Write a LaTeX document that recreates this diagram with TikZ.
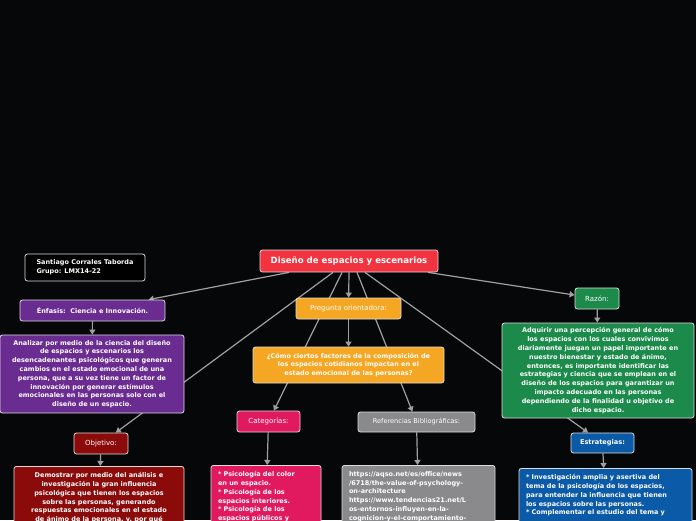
\documentclass[tikz,border=0pt]{standalone}
\usepackage{fontspec}
\setmainfont{DejaVu Sans}
\usetikzlibrary{arrows.meta}

\definecolor{bgblack}{RGB}{5,7,9}
\definecolor{boxline}{RGB}{220,220,220}
\definecolor{linkgray}{RGB}{160,160,160}
\definecolor{titlered}{RGB}{242,52,64}
\definecolor{purplebox}{RGB}{107,44,145}
\definecolor{darkred}{RGB}{139,10,10}
\definecolor{orangebox}{RGB}{245,166,35}
\definecolor{pinkbox}{RGB}{225,25,95}
\definecolor{graybox}{RGB}{138,138,140}
\definecolor{greenbox}{RGB}{27,138,74}
\definecolor{bluebox}{RGB}{11,90,168}

\pgfdeclarelayer{bg}
\pgfdeclarelayer{edges}
\pgfsetlayers{bg,edges,main}

\newcommand{\cuttext}[2]{\parbox[t][64pt][t]{#1}{#2}}

\tikzset{
  box/.style={draw=boxline, line width=0.8pt, rounded corners=2.5pt, text=white,
    inner sep=0pt, align=center, font=\fontsize{6.5}{8.8}\selectfont\bfseries},
  tag/.style={box, minimum height=21pt, font=\fontsize{7}{8}\selectfont},
  link/.style={draw=linkgray, line width=1.2pt, -{Triangle[width=6pt,length=5pt]}},
}

\begin{document}
\begin{tikzpicture}[x=1pt,y=-1pt]
  \useasboundingbox (0,0) rectangle (696,520);
  \begin{pgfonlayer}{bg}
    \fill[bgblack] (0,0) rectangle (696,520);
  \end{pgfonlayer}
  \clip (0,0) rectangle (696,520);

  % central topic
  \node[box, fill=titlered, minimum width=178pt, minimum height=22pt,
    font=\fontsize{8.6}{10}\selectfont\bfseries] (title) at (349,261) {Diseño de espacios y escenarios};
  \node[box, fill=black, minimum width=120pt, minimum height=27pt, align=left] (author) at (85,267.5)
    {Santiago Corrales Taborda\\Grupo: LMX14-22};

  % left branch
  \node[box, fill=purplebox, minimum width=145pt, minimum height=21pt] (enf) at (92.5,310.5)
    {Énfasis:\ \ Ciencia e Innovación.};
  \node[box, fill=purplebox, minimum width=184pt, minimum height=78pt] (analizar) at (92,374)
    {Analizar por medio de la ciencia del diseño\\de espacios y escenarios los\\desencadenantes psicológicos que generan\\cambios en el estado emocional de una\\persona, que a su vez tiene un factor de\\innovación por generar estímulos\\emocionales en las personas solo con el\\diseño de un espacio.};
  \node[tag, fill=darkred, minimum width=54pt] (obj) at (101,443.5) {Objetivo:};
  \node[box, fill=darkred, anchor=north, minimum width=170pt, inner ysep=6pt] (demo) at (99,466)
    {\cuttext{164pt}{\centering Demostrar por medio del análisis e\\investigación la gran influencia\\psicológica que tienen los espacios\\sobre las personas, generando\\respuestas emocionales en el estado\\de ánimo de la persona, y, por qué}};

  % middle branch
  \node[tag, fill=orangebox, minimum width=105pt] (preg) at (348.5,308.5) {Pregunta orientadora:};
  \node[box, fill=orangebox, minimum width=191pt, minimum height=36pt] (quest) at (348.5,365)
    {¿Cómo ciertos factores de la composición de\\los espacios cotidianos impactan en el\\estado emocional de las personas?};
  \node[tag, fill=pinkbox, minimum width=63pt] (cat) at (268.5,421.5) {Categorías:};
  \node[box, fill=pinkbox, anchor=north, minimum width=110pt, inner ysep=6pt] (colores) at (266,465)
    {\cuttext{96pt}{\raggedright * Psicología del color\\en un espacio.\\{}* Psicología de los\\espacios interiores.\\{}* Psicología de los\\espacios públicos y}};
  \node[tag, fill=graybox, minimum width=117pt, minimum height=20pt,
    font=\fontsize{6.6}{8}\selectfont] (ref) at (416.5,422) {Referencias Bibliográficas:};
  \node[box, fill=graybox, anchor=north, minimum width=153pt, inner ysep=6pt] (links) at (418.5,465)
    {\cuttext{139pt}{\raggedright https://aqso.net/es/office/news\\/6718/the-value-of-psychology-\\on-architecture\\https://www.tendencias21.net/L\\os-entornos-influyen-en-la-\\cognicion-y-el-comportamiento-}};

  % right branch
  \node[tag, fill=greenbox, minimum width=44pt] (razon) at (597,298.5) {Razón:};
  \node[box, fill=greenbox, minimum width=192pt, minimum height=95pt] (adq) at (598,370.5)
    {Adquirir una percepción general de cómo\\los espacios con los cuales convivimos\\diariamente juegan un papel importante en\\nuestro bienestar y estado de ánimo,\\entonces, es importante identificar las\\estrategias y ciencia que se emplean en el\\diseño de los espacios para garantizar un\\impacto adecuado en las personas\\dependiendo de la finalidad u objetivo de\\dicho espacio.};
  \node[tag, fill=bluebox, minimum width=63pt, minimum height=20pt,
    font=\fontsize{6.6}{8}\selectfont\bfseries] (estr) at (602.5,443) {Estrategias:};
  \node[box, fill=bluebox, anchor=north, minimum width=173pt, inner ysep=6pt] (estrat) at (605.5,468)
    {\cuttext{159pt}{\raggedright * Investigación amplia y asertiva del\\tema de la psicología de los espacios,\\para entender la influencia que tienen\\los espacios sobre las personas.\\{}* Complementar el estudio del tema y}};

  % connectors
  \begin{pgfonlayer}{edges}
    \draw[link] ([xshift=-60pt]title.south) -- (enf);
    \draw[link] ([xshift=-16pt]title.south) -- (obj);
    \draw[link] ([xshift=-7pt]title.south) -- (cat);
    \draw[link] (title.south) -- (preg);
    \draw[link] ([xshift=8pt]title.south) -- (ref);
    \draw[link] ([xshift=16pt]title.south) -- (estr);
    \draw[link] ([xshift=79pt]title.south) -- (razon);
    \draw[link] (enf) -- (analizar);
    \draw[link] (obj) -- (demo);
    \draw[link] (preg) -- (quest);
    \draw[link] (cat) -- (colores);
    \draw[link] (ref) -- (links);
    \draw[link] (razon) -- (adq);
    \draw[link] (estr) -- (estrat);
  \end{pgfonlayer}
\end{tikzpicture}
\end{document}
